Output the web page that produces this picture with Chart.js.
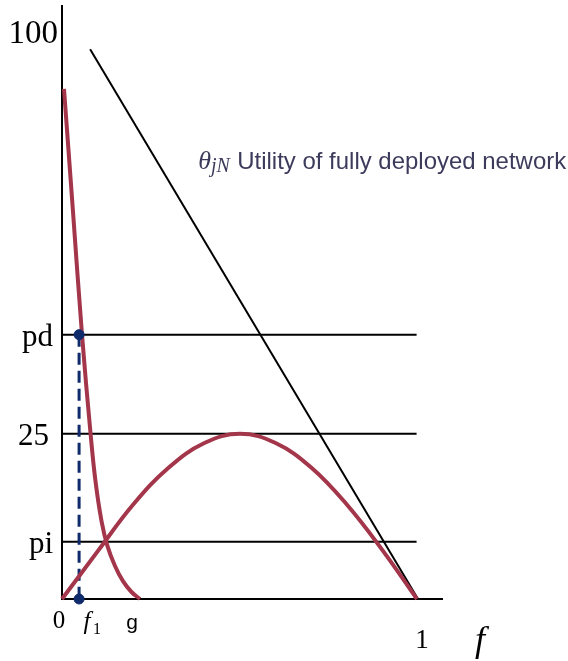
<!DOCTYPE html>
<html><head><meta charset="utf-8">
<script src="https://cdn.jsdelivr.net/npm/chart.js@4.4.1/dist/chart.umd.min.js"></script>
<style>html,body{margin:0;padding:0;background:#fff;overflow:hidden}#wrap{position:relative;width:568px;height:661px}</style>
</head><body><div id="wrap"><canvas id="c" width="568" height="661"></canvas></div>
<script>
// ---- data ----
const humpF = [0, 0.1, 0.2, 0.3, 0.4, 0.5, 0.6, 0.7, 0.8, 0.9, 0.997];
const humpU = [0, 7.2, 14.3, 19.9, 23.6, 25, 23.6, 19.9, 14.3, 7.4, 0];
const demandF = [0.0056, 0.0309, 0.0562, 0.0801, 0.0941, 0.111, 0.1278, 0.1489, 0.1713, 0.1952, 0.2191];
const demandP = [77.2, 58.6, 40.0, 25.1, 17.8, 11.8, 8.0, 5.0, 2.7, 1.06, 0];
const thetaF = [0.079, 1.0];
const thetaU = [83.2, 0];
const levelValues = [40, 25, 8.66];          // pd, 25, pi
const levelSpan = [0, 0.996];
const f1Value = 0.048;
const pdValue = 40;
const yTickValues = [8.66, 25, 40, 86];
const yTickLabels = ['pi', '25', 'pd', '100'];
const xTickValues = [0, 0.048, 0.219, 1];
const xTickLabels = ['0', 'f1', 'g', '1'];
const xAxisTitle = 'f';
const noteSymbol = 'θ';
const noteSub = 'jN';
const noteText = 'Utility of fully deployed network';

const RED = '#a3364a';
const NAVY = '#0f2b6b';
const toPts = (xs, ys) => xs.map((v, i) => ({x: v, y: ys[i]}));

const datasets = [
  {label: 'points', data: [{x: f1Value, y: pdValue}, {x: f1Value, y: 0}], showLine: false,
   pointRadius: 5, pointBackgroundColor: NAVY, pointBorderColor: NAVY, clip: false},
  {label: 'demand', data: toPts(demandF, demandP), showLine: true, borderColor: RED, borderWidth: 4,
   pointRadius: 0, tension: 0.4, clip: false},
  {label: 'utility', data: toPts(humpF, humpU), showLine: true, borderColor: RED, borderWidth: 4,
   pointRadius: 0, tension: 0.4, clip: false},
  {label: 'f1', data: [{x: f1Value, y: pdValue}, {x: f1Value, y: 0}], showLine: true, borderColor: NAVY,
   borderWidth: 3, borderDash: [12, 6], pointRadius: 0, clip: false},
  {label: 'theta', data: toPts(thetaF, thetaU), showLine: true, borderColor: '#000', borderWidth: 2,
   pointRadius: 0, clip: false},
  ...levelValues.map(v => ({label: 'level', data: levelSpan.map(f => ({x: f, y: v})), showLine: true,
   borderColor: '#000', borderWidth: 2, pointRadius: 0, clip: false}))
];

const labelPlugin = {
  id: 'labels',
  afterDraw(chart) {
    const {ctx} = chart;
    const x = chart.scales.x, y = chart.scales.y;
    ctx.save();
    ctx.fillStyle = '#000';
    ctx.textBaseline = 'alphabetic';
    const yStyle = {pi: {size: 31, pad: 9}, '25': {size: 31, pad: 13}, pd: {size: 31, pad: 9}, '100': {size: 33, pad: 4}};
    yTickValues.forEach((v, i) => {
      const lab = yTickLabels[i];
      const s = yStyle[lab];
      ctx.font = s.size + 'px "Liberation Serif"';
      ctx.textAlign = 'right';
      ctx.fillText(lab, x.left - s.pad, y.getPixelForValue(v) + Math.round(s.size * 0.37));
    });
    const base = y.bottom;
    xTickValues.forEach((v, i) => {
      const lab = xTickLabels[i];
      const px = x.getPixelForValue(v);
      if (lab === 'f1') {
        ctx.font = 'italic 25px "Liberation Serif"';
        ctx.textAlign = 'center';
        ctx.fillText('f', px + 8, base + 30);
        ctx.font = '16px "Liberation Serif"';
        ctx.textAlign = 'left';
        ctx.fillText('1', px + 14, base + 35);
      } else if (lab === 'g') {
        ctx.font = '21px "Liberation Sans"';
        ctx.textAlign = 'center';
        ctx.fillText(lab, px - 8, base + 30);
      } else if (lab === '0') {
        ctx.font = '25px "Liberation Serif"';
        ctx.textAlign = 'center';
        ctx.fillText(lab, px - 3, base + 29);
      } else {
        ctx.font = '27px "Liberation Serif"';
        ctx.textAlign = 'center';
        ctx.fillText(lab, px + 4, base + 49);
      }
    });
    ctx.font = 'italic 36px "Liberation Serif"';
    ctx.textAlign = 'center';
    ctx.fillText(xAxisTitle, x.right + 38, base + 52);

    // annotation of the straight line
    const ax = x.getPixelForValue(0.3826), ay = y.getPixelForValue(65.1);
    ctx.fillStyle = '#3d3b5c';
    ctx.textAlign = 'left';
    ctx.font = 'italic 26px "Liberation Serif"';
    ctx.fillText(noteSymbol, ax, ay);
    const w1 = ctx.measureText(noteSymbol).width;
    ctx.font = 'italic 20px "Liberation Serif"';
    ctx.fillText(noteSub, ax + w1, ay + 3, 23);
    ctx.font = '24px "Liberation Sans"';
    ctx.fillText(noteText, ax + 39, ay, 329);
    ctx.restore();
  }
};

new Chart(document.getElementById('c'), {
  type: 'scatter',
  data: {datasets},
  options: {
    responsive: false,
    animation: false,
    devicePixelRatio: 1,
    layout: {padding: {left: 54, top: 4, right: 126, bottom: 54}},
    plugins: {legend: {display: false}, tooltip: {enabled: false}},
    scales: {
      x: {type: 'linear', min: 0, max: 1.0674, grid: {display: false}, ticks: {display: false},
          border: {display: true, color: '#000', width: 2}},
      y: {type: 'linear', min: 0, max: 89.73, grid: {display: false}, ticks: {display: false},
          border: {display: true, color: '#000', width: 2}}
    }
  },
  plugins: [labelPlugin]
});
</script></body></html>
